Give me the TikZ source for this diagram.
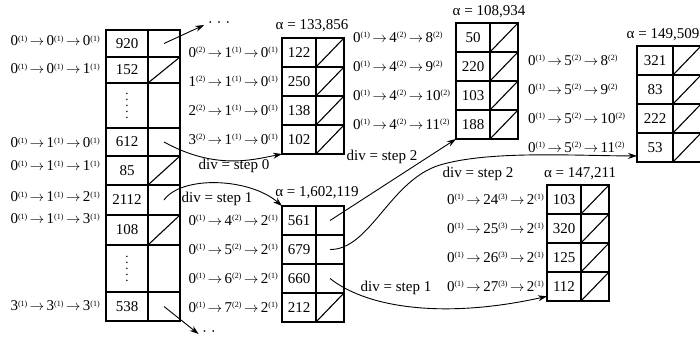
\documentclass[tikz,border=0pt]{standalone}
\usepackage{fontspec}
\setmainfont{Liberation Serif}
\usepackage{tikz}
\usetikzlibrary{arrows.meta,positioning}
\newcommand{\lvl}[2]{#1\raisebox{4.5pt}{\fontsize{8}{8}\selectfont(#2)}}
\newcommand{\ra}{\kern2.5pt$\rightarrow$\kern2.5pt}
\newcommand{\vd}{\vbox{\fontsize{13}{13}\selectfont\baselineskip=6pt\lineskiplimit=0pt\hbox{.}\hbox{.}\hbox{.}\hbox{.}\hbox{.}}}

\begin{document}
\begin{tikzpicture}[x=1pt, y=-1pt,
  every node/.style={font=\fontsize{15}{17}\selectfont},
  numcell/.style={draw, line width=1.1pt, minimum width=34pt, minimum height=29pt, inner sep=0pt, outer sep=0pt, anchor=north west},
  ptrcell/.style={draw, line width=1.1pt, minimum width=28pt, minimum height=29pt, inner sep=0pt, outer sep=0pt},
  diag/.style={line width=1.1pt},
  lab/.style={inner sep=1pt},
  arr/.style={-{Stealth[length=9pt,width=6pt]}, line width=0.9pt}
]
  \useasboundingbox (0,0) rectangle (700,337);
  \clip (0,0) rectangle (700,337);

  % first level table
  \foreach \v/\t/\h [count=\i] in {920/30/27, 152/57/26, \vd/83/45, 612/128/28, 85/156/29, 2112/185/30, 108/215/30, \vd/245/47, 538/292/29} {
    \node[numcell, minimum width=42pt, minimum height=\h] (L\i n) at (106,\t) {\v};
    \node[ptrcell, minimum width=32pt, minimum height=\h, right=0pt of L\i n] (L\i p) {};
  }
  \foreach \i in {2,5,7} \draw[diag] (L\i p.south west) -- (L\i p.north east);

  \node[lab, anchor=east] (l1) at (101,41)  {\lvl{0}{1}\ra\lvl{0}{1}\ra\lvl{0}{1}};
  \node[lab, anchor=east] (l2) at (101,69)  {\lvl{0}{1}\ra\lvl{0}{1}\ra\lvl{1}{1}};
  \node[lab, anchor=east] (l4) at (101,143) {\lvl{0}{1}\ra\lvl{1}{1}\ra\lvl{0}{1}};
  \node[lab, anchor=east] (l5) at (101,166) {\lvl{0}{1}\ra\lvl{1}{1}\ra\lvl{1}{1}};
  \node[lab, anchor=east] (l6) at (101,197) {\lvl{0}{1}\ra\lvl{1}{1}\ra\lvl{2}{1}};
  \node[lab, anchor=east] (l7) at (101,219) {\lvl{0}{1}\ra\lvl{1}{1}\ra\lvl{3}{1}};
  \node[lab, anchor=east] (l9) at (101,306) {\lvl{3}{1}\ra\lvl{3}{1}\ra\lvl{3}{1}};

  \node (more1) at (219,25)  {· · ·};
  \node (more2) at (209,334) {· ·};

  % alpha = 133,856
  \foreach \v [count=\i] in {122,250,138,102} {
    \node[numcell] (A\i n) at (282,{38+29*(\i-1)}) {\v};
    \node[ptrcell, right=0pt of A\i n] (A\i p) {};
    \draw[diag] (A\i p.south west) -- (A\i p.north east);
    \node[lab, left=3pt of A\i n] (a\i) {\lvl{\the\numexpr\i-1}{2}\ra\lvl{1}{1}\ra\lvl{0}{1}};
  }
  \node (alA) at (312,26) {α = 133,856};

  % alpha = 1,602,119
  \foreach \v [count=\i] in {561,679,660,212} {
    \node[numcell] (B\i n) at (282,{206+29*(\i-1)}) {\v};
    \node[ptrcell, right=0pt of B\i n] (B\i p) {};
    \node[lab, left=3pt of B\i n] (b\i) {\lvl{0}{1}\ra\lvl{\the\numexpr\i+3}{2}\ra\lvl{2}{1}};
  }
  \draw[diag] (B4p.south west) -- (B4p.north east);
  \node (alB) at (317,193) {α = 1,602,119};

  % alpha = 108,934
  \foreach \v [count=\i] in {50,220,103,188} {
    \node[numcell] (C\i n) at (456,{23+29*(\i-1)}) {\v};
    \node[ptrcell, right=0pt of C\i n] (C\i p) {};
    \draw[diag] (C\i p.south west) -- (C\i p.north east);
    \node[lab, anchor=west] (c\i) at (352,{37.5+29*(\i-1)}) {\lvl{0}{1}\ra\lvl{4}{2}\ra\lvl{\the\numexpr\i+7}{2}};
  }
  \node (alC) at (489,12) {α = 108,934};

  % alpha = 149,509
  \foreach \v [count=\i] in {321,83,222,53} {
    \node[numcell, minimum width=36pt] (D\i n) at (637,{46+29*(\i-1)}) {\v};
    \node[ptrcell, right=0pt of D\i n] (D\i p) {};
    \draw[diag] (D\i p.south west) -- (D\i p.north east);
    \node[lab, anchor=west] (d\i) at (527,{60.5+29*(\i-1)}) {\lvl{0}{1}\ra\lvl{5}{2}\ra\lvl{\the\numexpr\i+7}{2}};
  }
  \node (alD) at (663,35) {α = 149,509};

  % alpha = 147,211
  \foreach \v [count=\i] in {103,320,125,112} {
    \node[numcell] (E\i n) at (547,{185+29*(\i-1)}) {\v};
    \node[ptrcell, right=0pt of E\i n] (E\i p) {};
    \draw[diag] (E\i p.south west) -- (E\i p.north east);
    \node[lab, left=2pt of E\i n] (e\i) {\lvl{0}{1}\ra\lvl{\the\numexpr\i+23}{3}\ra\lvl{2}{1}};
  }
  \node (alE) at (580,174) {α = 147,211};

  \node (dv0)  at (234,166) {div = step 0};
  \node (dv1)  at (217,199) {div = step 1};
  \node (dv2)  at (382,157) {div = step 2};
  \node (dv2b) at (478,174) {div = step 2};
  \node (dv1b) at (396,288) {div = step 1};

  \draw[arr] (L1p.center) -- (more1.west);
  \draw[arr] (L9p.center) -- (more2.west);
  \draw[arr] (L4p.center) .. controls (215,170) and (252,160) .. (A4n.south west);
  \draw[arr] (L6p.center) .. controls (182,175) and (250,178) .. (B1n.north west);
  \draw[arr] (B1p.center) -- (C4n.south west);
  \draw[arr] (B2p.center) .. controls (370,250) and (390,180) .. (440,165) .. controls (490,150) and (580,156) .. (D4n.205);
  \draw[arr] (B3p.center) .. controls (370,310) and (450,318) .. (E4n.210);
\end{tikzpicture}
\end{document}
